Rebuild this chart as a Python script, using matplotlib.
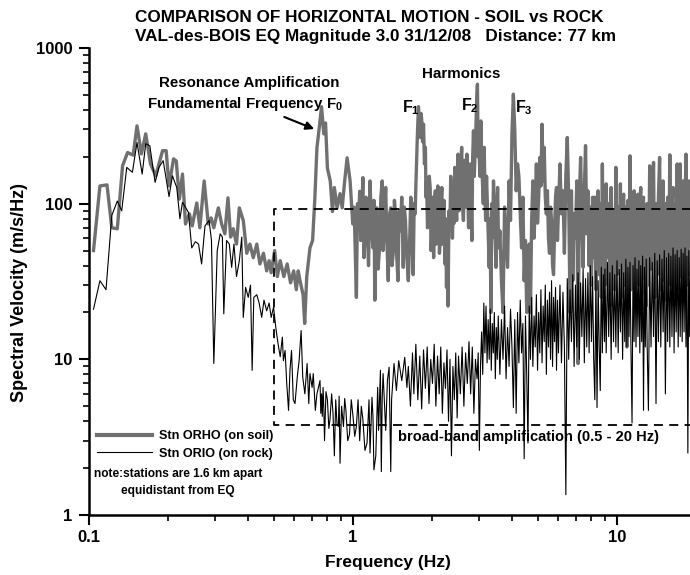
import matplotlib
matplotlib.use("Agg")
import matplotlib.pyplot as plt
from matplotlib.ticker import LogLocator, NullFormatter

# ---- data (Hz, m/s/Hz) ----
# soil station ORHO, below 3.6 Hz
soil_freq = [0.104, 0.110, 0.117, 0.122, 0.128, 0.134, 0.140, 0.147, 0.152, 0.158,
             0.164, 0.171, 0.179, 0.184, 0.190, 0.196, 0.201, 0.209, 0.214, 0.220,
             0.226, 0.232, 0.240, 0.246, 0.256, 0.263, 0.273, 0.283, 0.290, 0.297,
             0.309, 0.318, 0.327, 0.336, 0.344, 0.352, 0.362, 0.371, 0.384, 0.396,
             0.407, 0.419, 0.432, 0.444, 0.458, 0.471, 0.481, 0.490, 0.505, 0.517,
             0.530, 0.547, 0.563, 0.580, 0.596, 0.610, 0.620, 0.630, 0.647, 0.656,
             0.668, 0.687, 0.703, 0.717, 0.730, 0.745, 0.760, 0.775, 0.787, 0.800,
             0.820, 0.836, 0.850, 0.870, 0.893, 0.910, 0.930, 0.950, 0.975, 0.998,
             1.010, 1.020, 1.030, 1.040, 1.050, 1.060, 1.070, 1.080, 1.090, 1.100,
             1.110, 1.120, 1.130, 1.145, 1.160, 1.175, 1.190, 1.200, 1.210, 1.220,
             1.230, 1.245, 1.260, 1.275, 1.290, 1.300, 1.310, 1.320, 1.330, 1.345,
             1.360, 1.375, 1.390, 1.405, 1.420, 1.435, 1.450, 1.465, 1.480, 1.495,
             1.510, 1.530, 1.550, 1.565, 1.580, 1.600, 1.620,
             1.640, 1.655, 1.670, 1.680, 1.690, 1.705, 1.720, 1.730, 1.740, 1.755,
             1.770, 1.785, 1.800, 1.810, 1.820, 1.835, 1.850, 1.865, 1.880, 1.890,
             1.900, 1.915, 1.930, 1.945, 1.960, 1.975, 1.990, 2.005, 2.020, 2.035,
             2.050, 2.065, 2.080, 2.095, 2.110, 2.125, 2.140, 2.155, 2.170, 2.180,
             2.190, 2.210, 2.230, 2.245, 2.260, 2.275, 2.290, 2.310, 2.330, 2.345,
             2.360, 2.380, 2.400, 2.415, 2.430, 2.450, 2.470, 2.485, 2.500, 2.520,
             2.540, 2.560, 2.580, 2.600, 2.620, 2.640, 2.660, 2.680, 2.700, 2.720,
             2.740, 2.760, 2.780, 2.800, 2.820, 2.840, 2.860, 2.880, 2.900, 2.920,
             2.940, 2.960, 2.980, 3.000, 3.025, 3.050, 3.070, 3.090, 3.115, 3.140,
             3.160, 3.180, 3.205, 3.230, 3.255, 3.280, 3.305, 3.330, 3.355, 3.380,
             3.405, 3.430, 3.455, 3.480, 3.505, 3.530, 3.550, 3.570]
soil_amp = [50, 130, 132, 70, 69, 175, 213, 205, 316, 209,
            281, 180, 151, 180, 219, 219, 130, 194, 188, 107,
            155, 74, 86, 72, 101, 70, 140, 74, 81, 70,
            94, 74, 64, 109, 61, 69, 55, 94, 78, 48,
            55, 45, 55, 41, 48, 37, 43, 36, 50, 34,
            43, 34, 41, 31, 37, 28, 37, 32, 26, 17,
            34, 52, 58, 109, 228, 307, 420, 281, 330, 169,
            140, 89, 127, 94, 116, 94, 140, 197, 140, 74,
            95, 50, 25, 100, 78, 120, 58, 90, 147, 45,
            60, 110, 81, 40, 140, 70, 52, 105, 24, 70,
            94, 38, 52, 110, 140, 50, 64, 100, 127, 55,
            32, 85, 94, 40, 48, 105, 86, 45, 32, 90,
            67, 110, 39, 95, 78, 45, 32,
            60, 110, 95, 50, 35, 100, 86, 130, 180, 290,
            420, 300, 266, 380, 349, 250, 324, 180, 230, 110,
            140, 70, 86, 150, 127, 50, 64, 110, 45, 90,
            121, 55, 78, 130, 110, 48, 58, 100, 127, 55,
            74, 105, 41, 80, 29, 70, 22, 90, 74, 150,
            121, 60, 110, 75, 171, 100, 78, 150, 208, 90,
            110, 170, 230, 100, 78, 190, 140, 95, 208, 120,
            70, 150, 180, 100, 58, 200, 294, 150, 208, 300,
            457, 585, 200, 230, 150, 340, 190, 140, 100, 230,
            120, 78, 150, 95, 60, 39, 80, 20, 100, 61,
            140, 95, 60, 39, 90, 127, 70, 52]

# rock station ORIO, below 3.6 Hz
rock_freq = [0.104, 0.110, 0.116, 0.122, 0.128, 0.133, 0.139, 0.146, 0.152, 0.159,
             0.164, 0.170, 0.178, 0.184, 0.191, 0.201, 0.207, 0.215, 0.221, 0.226,
             0.238, 0.245, 0.253, 0.260, 0.267, 0.275, 0.285, 0.291, 0.297, 0.306,
             0.314, 0.320, 0.324, 0.332, 0.340, 0.347, 0.354, 0.362, 0.371, 0.379,
             0.384, 0.392, 0.401, 0.409, 0.415, 0.421, 0.432, 0.441, 0.451, 0.460,
             0.471, 0.481, 0.490, 0.500, 0.510, 0.520, 0.530, 0.540, 0.545, 0.553,
             0.561, 0.570, 0.577, 0.585, 0.594, 0.603, 0.615, 0.625, 0.636, 0.645,
             0.657, 0.670, 0.680, 0.687, 0.700, 0.707, 0.720, 0.730, 0.750, 0.755,
             0.760, 0.765, 0.770, 0.775, 0.780, 0.790, 0.800, 0.810, 0.818, 0.830,
             0.840, 0.850, 0.860, 0.870, 0.880, 0.886, 0.893, 0.905, 0.920, 0.930,
             0.940, 0.955, 0.970, 0.985, 1.000, 1.015, 1.030, 1.045, 1.060, 1.075,
             1.090, 1.110, 1.130, 1.15, 1.16, 1.18, 1.19, 1.20, 1.22, 1.24,
             1.25, 1.27, 1.28, 1.29, 1.30, 1.33, 1.35, 1.37, 1.39, 1.40,
             1.43, 1.46, 1.49, 1.53, 1.57, 1.60, 1.62, 1.65, 1.68, 1.70,
             1.73, 1.76, 1.79, 1.82, 1.85, 1.88, 1.91, 1.94, 1.97, 2.00,
             2.03, 2.06, 2.09, 2.12, 2.15, 2.18, 2.21, 2.24, 2.27, 2.30,
             2.33, 2.36, 2.39, 2.42, 2.45, 2.48, 2.51, 2.55, 2.59, 2.63,
             2.67, 2.71, 2.75, 2.79, 2.83, 2.87, 2.91, 2.95, 2.98, 3.01,
             3.04, 3.07, 3.10, 3.13, 3.16, 3.19, 3.22, 3.25, 3.28, 3.31,
             3.34, 3.37, 3.40, 3.43, 3.46, 3.49, 3.52, 3.55]
rock_amp = [21, 32, 28, 84, 104, 90, 171, 159, 247, 155,
            243, 235, 137, 171, 189, 111, 151, 127, 80, 102,
            88, 52, 57, 55, 41, 72, 78, 58, 9.4, 50,
            64, 61, 19.6, 58, 55, 39, 55, 34, 43, 61,
            18.6, 29, 25, 30, 8.5, 25, 26, 23, 18.6, 24,
            20.5, 23, 18.6, 21.6, 16, 12.6, 10.4, 13.9, 9.8, 11.4,
            7.0, 4.7, 8.5, 11.4, 5.5, 5.2, 7.7, 9.8, 15.3, 7.7,
            6.0, 9.4, 5.2, 8.1, 6.6, 8.1, 4.7, 6.0, 7.3, 4.5,
            6.0, 4.3, 6.6, 5.0, 3.0, 6.2, 5.5, 3.6, 4.1, 6.0,
            4.5, 2.4, 5.5, 3.8, 3.7, 5.8, 2.15, 5.0, 3.7, 5.6,
            4.7, 3.0, 3.3, 5.5, 4.3, 3.2, 3.7, 5.5, 3.0, 5.0,
            4.1, 2.6, 2.9, 5.5, 2.5, 5.7, 4.3, 1.95, 2.4, 6.6,
            3.5, 8.5, 1.9, 5.7, 8.1, 3.5, 7.3, 8.9, 1.9, 5.5,
            9.4, 6.3, 9.8, 7.3, 10.3, 6.6, 9.0, 5.0, 11.0, 6.0,
            12.5, 5.5, 10.5, 4.8, 11.5, 6.5, 12.0, 5.2, 10.0, 7.0,
            12.5, 5.0, 10.5, 6.0, 12.0, 4.5, 9.5, 6.5, 11.5, 4.0,
            10.0, 2.4, 9.0, 5.5, 11.0, 4.2, 10.5, 6.0, 12.0, 5.0,
            11.0, 7.0, 13.0, 6.0, 12.0, 4.5, 10.0, 7.5, 11.0, 2.6,
            9.0, 15.0, 8.0, 23.0, 11.0, 22.0, 9.5, 18.0, 10.0, 21.0,
            8.5, 17.0, 11.0, 20.0, 7.5, 16.0, 10.0, 19.0]

# common frequency samples above 3.6 Hz (both stations)
hf_freq = [3.60, 3.65, 3.70, 3.75, 3.80, 3.85, 3.90, 3.95, 4.00, 4.05,
           4.10, 4.15, 4.20, 4.25, 4.30, 4.35, 4.40, 4.45, 4.50, 4.55,
           4.60, 4.65, 4.70, 4.75, 4.80, 4.85, 4.90, 4.95, 5.00, 5.05,
           5.10, 5.15, 5.20, 5.25, 5.30, 5.35, 5.40, 5.45, 5.50, 5.55,
           5.60, 5.65, 5.70, 5.75, 5.80, 5.85, 5.90, 5.95,
           6.00, 6.08, 6.16, 6.24, 6.32, 6.40, 6.48, 6.56, 6.64, 6.72,
           6.80, 6.88, 6.96, 7.04, 7.12, 7.20, 7.28, 7.36, 7.44, 7.52,
           7.60, 7.68, 7.76, 7.84, 7.92, 8.00, 8.08, 8.16, 8.24, 8.32,
           8.40, 8.48, 8.56, 8.64, 8.72, 8.80, 8.88, 8.96,
           9.0, 9.1, 9.2, 9.3, 9.4, 9.5, 9.6, 9.7, 9.8, 9.9,
           10.0, 10.1, 10.2, 10.3, 10.4, 10.5, 10.6, 10.7, 10.8, 10.9,
           11.0, 11.1, 11.2, 11.3, 11.4, 11.5, 11.6, 11.7, 11.8, 11.9,
           12.0, 12.1, 12.2, 12.3, 12.4, 12.5, 12.6, 12.7, 12.8, 12.9,
           13.00, 13.15, 13.30, 13.45, 13.60, 13.75, 13.90, 14.05, 14.20, 14.35,
           14.50, 14.65, 14.80, 14.95, 15.10, 15.25, 15.40, 15.55, 15.70, 15.85,
           16.00, 16.15, 16.30, 16.45, 16.60, 16.75, 16.90, 17.05, 17.20, 17.35,
           17.50, 17.65, 17.80, 17.95, 18.10, 18.25, 18.40, 18.55, 18.70, 18.85,
           19.00]
soil_hf = [67, 32, 20, 95, 60, 39, 140, 78, 281, 505,
           294, 121, 180, 150, 86, 52, 110, 32, 58, 20,
           39, 55, 20, 78, 140, 60, 95, 180, 75, 110,
           198, 130, 324, 140, 230, 110, 86, 121, 60, 48,
           95, 78, 40, 35, 67, 110, 127, 58,
           90, 180, 86, 121, 48, 150, 266, 110, 20, 121,
           32, 86, 60, 140, 9.4, 110, 198, 78, 39, 121,
           236, 64, 121, 40, 95, 30, 110, 45, 110, 28,
           90, 121, 35, 100, 25, 180, 40, 95,
           30, 134, 45, 100, 22, 127, 38, 90, 28, 171,
           35, 95, 40, 134, 25, 100, 115, 30, 95, 12,
           105, 35, 203, 28, 95, 40, 121, 24, 100, 35,
           115, 30, 95, 127, 26, 100, 110, 33, 90, 22,
           100, 30, 175, 38, 95, 184, 25, 100, 35, 110,
           198, 28, 95, 140, 32, 100, 24, 110, 35, 206,
           30, 95, 127, 22, 100, 36, 180, 28, 105, 180,
           34, 95, 140, 25, 100, 208, 30, 95, 140, 35,
           90]
rock_hf = [8.0, 18, 10, 22, 7.5, 16, 9.0, 21, 12, 4.9,
           18, 4.5, 20, 9.5, 24, 11, 17, 2.3, 19, 8.0,
           2.9, 22, 10, 25, 9.0, 19, 12, 26, 8.5, 20,
           11, 28, 9.5, 22, 13, 30, 8.0, 24, 12, 27,
           10, 32, 9.0, 25, 13, 29, 8.5, 24,
           11, 30, 9.5, 27, 12, 1.35, 33, 10, 28, 13,
           35, 9.0, 30, 12, 36, 10, 31, 14, 38, 9.5,
           33, 12, 36, 11, 40, 13, 34, 10, 5.5, 37,
           4.9, 32, 12, 6.3, 39, 11, 35, 13,
           38, 11, 42, 14, 36, 10, 40, 13, 35, 12,
           43, 11, 38, 15, 41, 10, 36, 13, 44, 12,
           39, 14, 42, 11, 3.9, 40, 13, 45, 12, 38,
           14, 43, 11, 40, 13, 46, 4.7, 39, 12, 44,
           13, 4.7, 45, 12, 42, 14, 48, 5.2, 43, 13,
           47, 12, 44, 15, 50, 6.0, 45, 13, 48, 12,
           46, 14, 52, 11, 47, 15, 50, 12, 45, 14,
           51, 13, 48, 15, 52, 12, 46, 2.5, 50, 14,
           47]

# broad-band amplification window
band_freq = [0.5, 20]
band_amp = [3.8, 93]

# ---- fonts ----
plt.rcParams['font.family'] = ['Liberation Sans', 'DejaVu Sans']
plt.rcParams['font.weight'] = 'bold'
plt.rcParams['mathtext.fontset'] = 'custom'
plt.rcParams['mathtext.rm'] = 'Liberation Sans'

W, H = 690, 575
fig = plt.figure(figsize=(W / 100, H / 100), dpi=100)
ax = fig.add_axes([89 / W, 60 / H, 601 / W, 467 / H])

soil_line, = ax.plot(soil_freq + hf_freq, soil_amp + soil_hf, color='#707070',
                     lw=2.4, zorder=2, label='Stn ORHO (on soil)')
rock_line, = ax.plot(rock_freq + hf_freq, rock_amp + rock_hf, color='black',
                     lw=0.8, zorder=3, label='Stn ORIO (on rock)')

# dashed box around the broad-band window
ax.plot([band_freq[1], band_freq[0], band_freq[0], band_freq[1]],
        [band_amp[1], band_amp[1], band_amp[0], band_amp[0]],
        color='black', lw=1.3, ls=(0, (5, 3.5)), zorder=4)

ax.set_xscale('log')
ax.set_yscale('log')
ax.set_xlim(0.1, 18.9)
ax.set_ylim(1, 1000)

for side in ['top', 'right']:
    ax.spines[side].set_visible(False)
for side in ['left', 'bottom']:
    ax.spines[side].set_linewidth(1.8)

ax.set_xticks([0.1, 1, 10])
ax.set_xticklabels(['0.1', '1', '10'])
ax.set_yticks([1, 10, 100, 1000])
ax.set_yticklabels(['1', '10', '100', '1000'])
ax.xaxis.set_minor_locator(LogLocator(base=10, subs=(2, 3, 4, 5, 6, 7, 8, 9), numticks=20))
ax.yaxis.set_minor_locator(LogLocator(base=10, subs=(2, 3, 4, 5, 6, 7, 8, 9), numticks=20))
ax.xaxis.set_minor_formatter(NullFormatter())
ax.yaxis.set_minor_formatter(NullFormatter())
ax.tick_params(which='major', length=7, width=1.5, labelsize=12)
ax.tick_params(which='minor', length=4, width=1.2)
ax.tick_params(axis='x', which='major', pad=4)
ax.tick_params(axis='y', which='major', pad=5)

# titles and axis labels
fig.text(135 / W, 1 - 18 / H, 'COMPARISON OF HORIZONTAL MOTION - SOIL vs ROCK',
         size=12.3, ha='left', va='center')
fig.text(135 / W, 1 - 37 / H, 'VAL-des-BOIS EQ Magnitude 3.0 31/12/08   Distance: 77 km',
         size=12.3, ha='left', va='center')
fig.text(388 / W, 1 - 563 / H, 'Frequency (Hz)', size=12.5, ha='center', va='center')
fig.text(20 / W, 1 - 292 / H, 'Spectral Velocity (m/s/Hz)', size=13, rotation=90,
         ha='center', va='center')

# annotations
ax.text(0.405, 597, 'Resonance Amplification', size=10.9, ha='center', va='center')
ax.text(0.39, 437, 'Fundamental Frequency F$_\\mathrm{0}$', size=10.9,
        ha='center', va='center')
ax.annotate('', xy=(0.729, 297), xytext=(0.537, 366),
            arrowprops=dict(arrowstyle='-|>', color='black', lw=1.5, mutation_scale=12))
ax.text(2.57, 681, 'Harmonics', size=10.9, ha='center', va='center')
ax.text(1.66, 412, 'F$_\\mathrm{1}$', size=11.5, ha='center', va='center')
ax.text(2.77, 425, 'F$_\\mathrm{2}$', size=11.5, ha='center', va='center')
ax.text(4.45, 412, 'F$_\\mathrm{3}$', size=11.5, ha='center', va='center')
ax.text(1.48, 3.16, 'broad-band amplification (0.5 - 20 Hz)', size=10.5,
        ha='left', va='center', zorder=5)

leg = ax.legend(handles=[soil_line, rock_line], loc='upper left',
                bbox_to_anchor=(0.0133, 0.182), frameon=False,
                prop=dict(weight='bold', size=9.1),
                handlelength=4.36, handletextpad=0.55, labelspacing=0.45,
                borderpad=0, borderaxespad=0)
leg.legend_handles[0].set_linewidth(3.0)
ax.text(0.148, 0.088, 'note:stations are 1.6 km apart', transform=ax.transAxes,
        size=8.6, ha='center', va='center')
ax.text(0.148, 0.0514, 'equidistant from EQ', transform=ax.transAxes,
        size=8.6, ha='center', va='center')

fig.savefig('out.png', dpi=100)
